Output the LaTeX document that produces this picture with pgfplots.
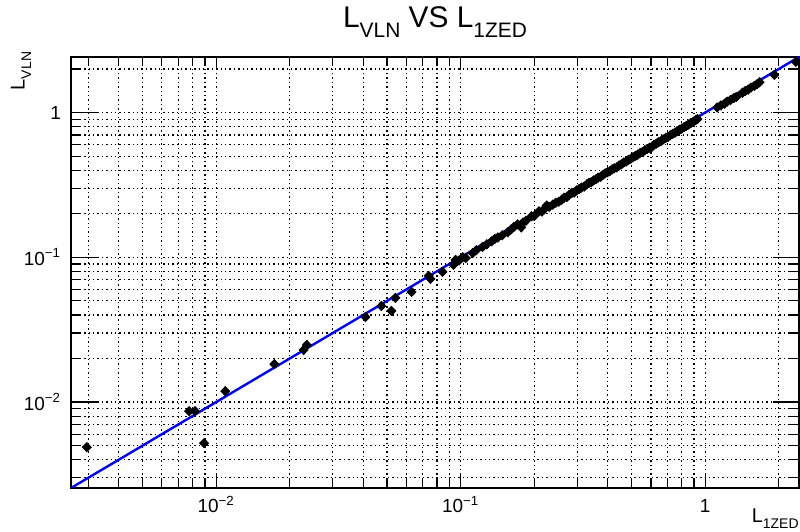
\documentclass[border=0pt]{standalone}
\usepackage{fontspec}
\setmainfont{Liberation Sans}
\usepackage{pgfplots}
\pgfplotsset{compat=1.18}
\newcommand\sub[1]{\raisebox{-0.32em}{\scalebox{0.7}{#1}}}
\newcommand\ex[1]{\textsuperscript{#1}}

\begin{document}
\begin{tikzpicture}
\begin{loglogaxis}[
  name=ax,
  scale only axis, width=364bp, height=215.5bp,
  xmin=0.00255, xmax=2.42, ymin=0.00255, ymax=2.42,
  axis line style={line width=0.7bp},
  tick pos=both, tick align=inside,
  xtick={0.01,0.1,1}, xticklabels={10\ex{−2},10\ex{−1},1},
  ytick={0.01,0.1,1}, yticklabels={10\ex{−2},10\ex{−1},1},
  minor xtick={0.003,0.004,0.005,0.006,0.007,0.008,0.009,0.02,0.03,0.04,0.05,0.06,0.07,0.08,0.09,0.2,0.3,0.4,0.5,0.6,0.7,0.8,0.9,2},
  minor ytick={0.003,0.004,0.005,0.006,0.007,0.008,0.009,0.02,0.03,0.04,0.05,0.06,0.07,0.08,0.09,0.2,0.3,0.4,0.5,0.6,0.7,0.8,0.9,2},
  extra y ticks={0.01,0.1,1}, extra y tick labels={},
  extra y tick style={major tick length=13bp, grid=none},
  grid=both,
  major grid style={black, line width=0.6bp, dash pattern=on 0.7bp off 1.5bp},
  minor grid style={black, line width=0.6bp, dash pattern=on 0.7bp off 1.5bp},
  tick style={black, line width=0.6bp},
  major tick length=6.5bp, minor tick length=4.5bp,
  ticklabel style={font=\fontsize{9.5}{9.5}\selectfont},
  xticklabel style={anchor=base, yshift=-12.5bp},
  yticklabel style={xshift=-1.5bp},
]
% measured points
\addplot[only marks, mark=diamond*, mark size=2.3bp, mark options={xscale=1.3}, black] coordinates {
(0.00296,0.00488) (0.00776,0.00866) (0.0082,0.00866) (0.00893,0.0052)
(0.0109,0.0119) (0.0173,0.0183) (0.0228,0.0229) (0.0235,0.0248)
(0.0408,0.0387) (0.0474,0.0461) (0.0521,0.0427) (0.0541,0.0525)
(0.0630,0.0577) (0.0740,0.0745) (0.0753,0.0710) (0.0843,0.0794)
(0.0935,0.0888) (0.0954,0.0960) (0.0985,0.0950) (0.1020,0.1000)
(0.1050,0.0990) (0.1120,0.1070) (0.1160,0.1120) (0.1230,0.1180)
(0.1280,0.1230) (0.1340,0.1290) (0.1380,0.1340) (0.1420,0.1370)
(0.1480,0.1420) (0.1560,0.1490) (0.1610,0.1560) (0.1650,0.1620)
(0.1710,0.1690) (0.1770,0.1610) (0.1800,0.1740) (0.1850,0.1790)
(0.1950,0.1920) (0.2000,0.1930) (0.2090,0.2080) (0.2150,0.2070)
(0.2200,0.2150) (0.2250,0.2280) (0.2300,0.2230) (0.2380,0.2310)
(0.2450,0.2380) (0.2520,0.2420) (0.2590,0.2500) (0.2650,0.2580)
(0.2720,0.2610) (0.2780,0.2700) (0.2850,0.2790) (0.2910,0.2800)
(0.2980,0.2900) (0.3050,0.2960) (0.3120,0.3030) (0.3200,0.3080)
(0.3280,0.3190) (0.3350,0.3270) (0.3420,0.3300) (0.3500,0.3400)
(0.3580,0.3470) (0.3650,0.3550) (0.3740,0.3600) (0.3820,0.3710)
(0.3900,0.3800) (0.3990,0.3870) (0.4080,0.3940) (0.4170,0.4060)
(0.4250,0.4120) (0.4350,0.4180) (0.4450,0.4310) (0.4550,0.4400)
(0.4650,0.4520) (0.4750,0.4580) (0.4850,0.4700) (0.4960,0.4790)
(0.5070,0.4920) (0.5180,0.5010) (0.5300,0.5120) (0.5420,0.5260)
(0.5540,0.5330) (0.5660,0.5480) (0.5790,0.5600) (0.5920,0.5720)
(0.6050,0.5790) (0.6180,0.5990) (0.6320,0.6100) (0.6460,0.6250)
(0.6600,0.6350) (0.6750,0.6530) (0.6900,0.6680) (0.7050,0.6790)
(0.7200,0.6980) (0.7360,0.7120) (0.7520,0.7250) (0.7680,0.7430)
(0.7850,0.7600) (0.8020,0.7740) (0.8200,0.7930) (0.8380,0.8100)
(0.8560,0.8270) (0.8750,0.8480) (0.8940,0.8630) (0.9130,0.8840)
(0.9300,0.9020)
(1.120,1.085) (1.160,1.120) (1.200,1.150) (1.230,1.190)
(1.270,1.220) (1.310,1.260) (1.340,1.280)
(1.420,1.370) (1.460,1.410) (1.500,1.440) (1.540,1.490)
(1.590,1.530) (1.630,1.570) (1.670,1.620)
(1.920,1.820) (2.350,2.240)
};
% y = x reference line
\addplot[blue, line width=1.2bp, mark=none] coordinates {(0.00255,0.00255) (2.42,2.42)};
\end{loglogaxis}
\node[anchor=base, font=\fontsize{15}{15}\selectfont] at ([yshift=14.5bp]ax.north) {L\sub{VLN} VS L\sub{1ZED}};
\node[rotate=90, inner sep=0, font=\fontsize{10}{10}\selectfont] at ([xshift=-25bp, yshift=-7bp]ax.north west) {L\sub{VLN}};
\node[anchor=north east, inner sep=0, font=\fontsize{10}{10}\selectfont] at ([yshift=-10bp]ax.south east) {L\sub{1ZED}};
\pgfresetboundingbox
\path[use as bounding box] ([xshift=-35.5bp, yshift=-22bp]ax.south west) rectangle ([xshift=0.5bp, yshift=28.5bp]ax.north east);
\end{tikzpicture}
\end{document}
